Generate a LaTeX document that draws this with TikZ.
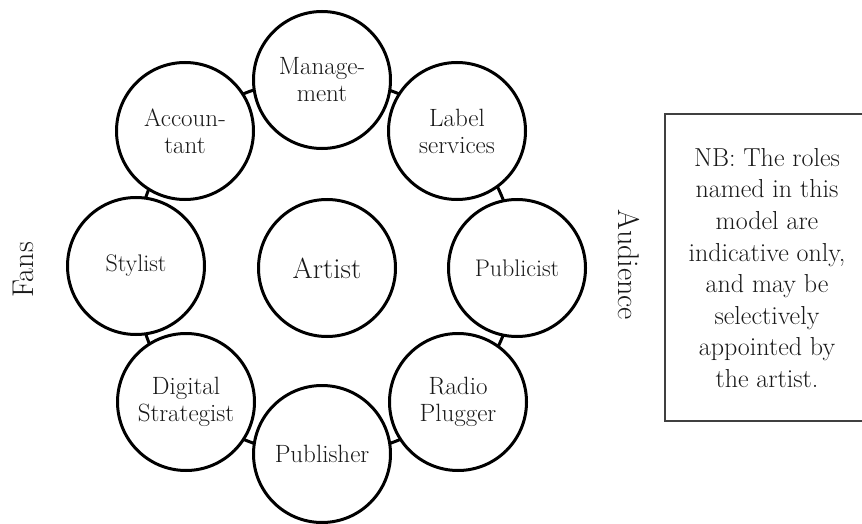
\documentclass[tikz,border=0pt]{standalone}
\usepackage{fontspec}
\pgfdeclarelayer{background}
\pgfsetlayers{background,main}
\begin{document}
\begin{tikzpicture}[x=1pt,y=-1pt,
  role/.style={circle, draw=black, line width=3pt, fill=white,
    minimum size=137pt, inner sep=0pt, align=center, text=black!90,
    font=\fontsize{25}{27}\selectfont},
  rolesmall/.style={role, font=\fontsize{24}{27}\selectfont},
  rolebig/.style={role, font=\fontsize{29}{32}\selectfont},
  ringlink/.style={line width=3pt, looseness=0.886},
  side/.style={font=\fontsize{30}{36}\selectfont, text=black!90, inner sep=0pt},
  notetext/.style={align=center, text=black!90, inner sep=0pt,
    font=\fontsize{26}{31.6}\selectfont},
  frame/.style={draw=black!75, line width=2pt},
]
\useasboundingbox (0,0) rectangle (862,524);

% roles arranged around the artist
\node[role] (mgmt) at (322,80) {Manage-\\ment};
\node[role] (label) at (457,131) {Label\\services};
\node[rolesmall] (publicist) at (517,268) {Publicist};
\node[role] (radio) at (458,402) {Radio\\Plugger};
\node[role] (publisher) at (322,454) {\raisebox{-4pt}{Publisher}};
\node[role] (digital) at (186,402) {Digital\\Strategist};
\node[rolesmall] (stylist) at (136,266) {Stylist};
\node[role] (accountant) at (185,131) {Accoun-\\tant};
\node[rolebig] (artist) at (327,268) {Artist};

% the ring joining neighbouring roles
\begin{pgfonlayer}{background}
\draw[ringlink] (mgmt.center) to[bend left=22.5] (label.center);
\draw[ringlink] (label.center) to[bend left=22.5] (publicist.center);
\draw[ringlink] (publicist.center) to[bend left=22.5] (radio.center);
\draw[ringlink] (radio.center) to[bend left=22.5] (publisher.center);
\draw[ringlink] (publisher.center) to[bend left=22.5] (digital.center);
\draw[ringlink] (digital.center) to[bend left=22.5] (stylist.center);
\draw[ringlink] (stylist.center) to[bend left=22.5] (accountant.center);
\draw[ringlink] (accountant.center) to[bend left=22.5] (mgmt.center);
\end{pgfonlayer}

% side labels
\node[side, rotate=90] (fans) at (23,270) {Fans};
\node[side, rotate=-90] (audience) at (629,265) {Audience};

% note box
\node[notetext] (note) at (767,268) {NB: The roles\\named in this\\model are\\indicative only,\\and may be\\selectively\\appointed by\\the artist.};
\draw[frame] (862,114) -- (665,114) -- (665,421) -- (862,421);
\end{tikzpicture}
\end{document}
